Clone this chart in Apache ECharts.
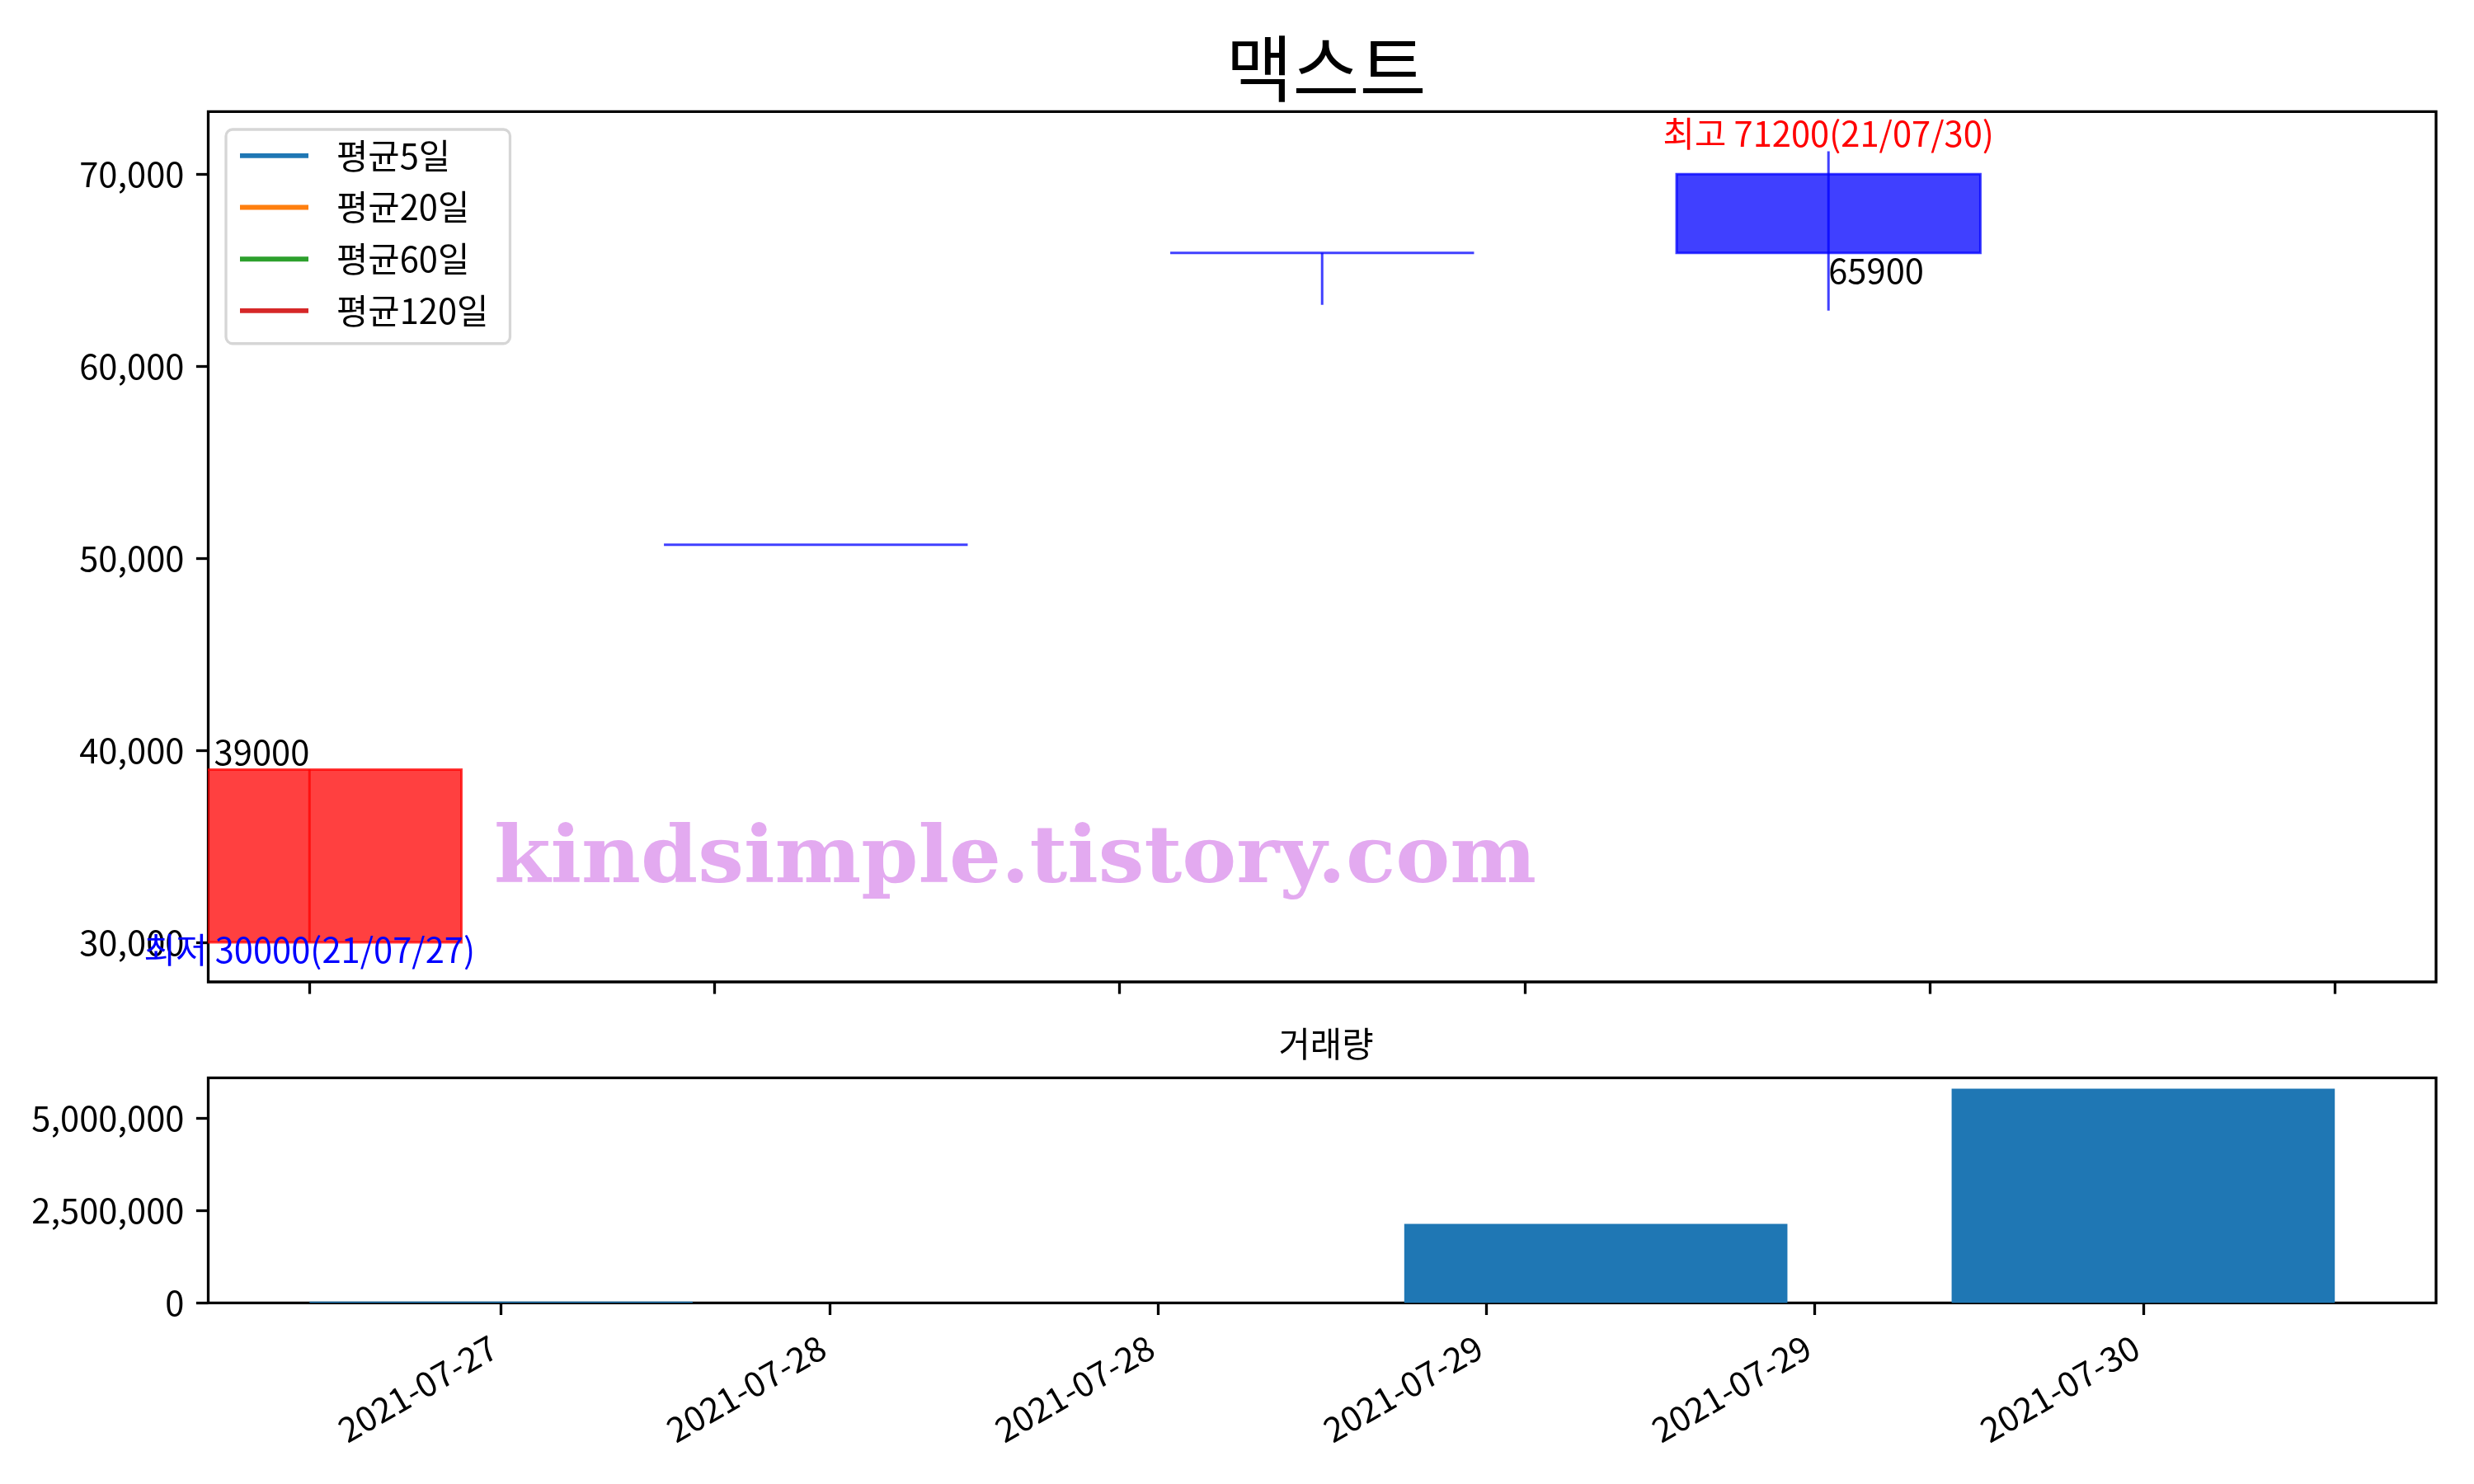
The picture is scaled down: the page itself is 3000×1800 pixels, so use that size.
<!DOCTYPE html>
<html><head><meta charset="utf-8">
<script src="https://cdn.jsdelivr.net/npm/echarts@6/dist/echarts.min.js"></script>
<style>html,body{margin:0;padding:0;background:#fff}#c{width:3000px;height:1800px}</style>
</head><body><div id="c"></div>
<script>
// ---- data ----
const dates = ['2021-07-27', '2021-07-28', '2021-07-29', '2021-07-30'];
const openPrices  = [30000, 50700, 65900, 70000];
const closePrices = [39000, 50700, 65900, 65900];
const lowPrices   = [30000, 50700, 63200, 62900];
const highPrices  = [39000, 50700, 65900, 71200];
const volumes     = [35000, 5000, 2135000, 5790000];
const maNames     = ['평균5일', '평균20일', '평균60일', '평균120일'];
const priceTicks  = [30000, 40000, 50000, 60000, 70000];
const volumeTicks = [0, 2500000, 5000000];
const priceTickPos = [27, 27.8, 28.6, 29.4, 30.2, 31.0];
const volTickPos   = [27, 27.6, 28.2, 28.8, 29.4, 30.0];
const volTickLabels = ['2021-07-27', '2021-07-28', '2021-07-28', '2021-07-29', '2021-07-29', '2021-07-30'];
const closeLabelIdx = [0, 3];

// ---- styles ----
const FONT = "'Noto Sans CJK KR', 'Noto Sans', sans-serif";
const FS = 41.7;
const maColors = ['#1f77b4', '#ff7f0e', '#2ca02c', '#d62728'];
const UP = 'rgba(255,0,0,0.75)';
const DOWN = 'rgba(0,0,255,0.75)';
const BODY_W = 0.6, VOL_W = 0.7;
const LABEL_SHIFT = -0.013; // small leftward nudge of rotated date labels (in days)

const dayOf = d => parseInt(d.slice(8), 10);
const xs = dates.map(dayOf);
const shortDate = d => d.slice(2).replace(/-/g, '/');

const candleData = xs.map((x, i) => [x, openPrices[i], closePrices[i], lowPrices[i], highPrices[i]]);
const volData = xs.map((x, i) => [x, volumes[i]]);

let hiIdx = 0, loIdx = 0;
highPrices.forEach((v, i) => { if (v > highPrices[hiIdx]) hiIdx = i; });
lowPrices.forEach((v, i) => { if (v < lowPrices[loIdx]) loIdx = i; });

const annots = [
  { x: xs[hiIdx], y: highPrices[hiIdx], text: '최고 ' + highPrices[hiIdx] + '(' + shortDate(dates[hiIdx]) + ')', color: '#ff0000', align: 'center', va: 'bottom', dy: 0 },
  { x: xs[loIdx], y: lowPrices[loIdx], text: '최저 ' + lowPrices[loIdx] + '(' + shortDate(dates[loIdx]) + ')', color: '#0000ff', align: 'center', va: 'top', dy: -12 }
];
closeLabelIdx.forEach(i => {
  const up = closePrices[i] > openPrices[i];
  annots.push({ x: xs[i], y: closePrices[i], text: String(closePrices[i]), color: '#000', align: up ? 'right' : 'left', va: up ? 'bottom' : 'top', dy: 0 });
});

const fmt = v => Math.round(v).toLocaleString('en-US');
const volLabelPos = volTickPos.map(p => p + LABEL_SHIFT);

const axisCommon = {
  axisLine: { show: false },
  splitLine: { show: false },
  axisTick: { show: true, length: 14.6, inside: false, lineStyle: { color: '#000', width: 3.3 } },
  axisLabel: { color: '#000', fontFamily: FONT, fontSize: FS, margin: 29 }
};

const chart = echarts.init(document.getElementById('c'), null, { renderer: 'canvas' });
chart.setOption({
  backgroundColor: '#ffffff',
  animation: false,
  title: [
    { text: '맥스트', left: 1603, top: 34, textAlign: 'center',
      textStyle: { fontSize: 88, fontWeight: 'normal', fontFamily: FONT, color: '#000' } },
    { text: '거래량', left: 1603, top: 1240, textAlign: 'center',
      textStyle: { fontSize: FS, fontWeight: 'normal', fontFamily: FONT, color: '#000' } }
  ],
  legend: {
    show: true, orient: 'vertical', left: 274, top: 157,
    data: maNames,
    itemWidth: 83, itemHeight: 42, itemGap: 21,
    padding: [11, 26, 19, 17],
    backgroundColor: 'rgba(255,255,255,0.8)',
    borderColor: '#d6d6d6', borderWidth: 3.3, borderRadius: 8,
    textStyle: { fontFamily: FONT, fontSize: FS, color: '#000', padding: [0, 0, 0, 29] },
    icon: 'path://M0,0 L14,0 L14,1 L0,1 Z',
    selectedMode: false
  },
  grid: [
    { left: 252.5, right: 46, top: 135.4, height: 1055.6, show: true, borderColor: '#000', borderWidth: 3.3, backgroundColor: 'transparent', outerBoundsMode: 'none' },
    { left: 252.5, right: 46, top: 1307.4, height: 273, show: true, borderColor: '#000', borderWidth: 3.3, backgroundColor: 'transparent', outerBoundsMode: 'none' }
  ],
  xAxis: [
    Object.assign({}, axisCommon, {
      type: 'value', gridIndex: 0, min: 26.8, max: 31.2,
      axisTick: Object.assign({}, axisCommon.axisTick, { customValues: priceTickPos }),
      axisLabel: { show: false, customValues: priceTickPos }
    }),
    Object.assign({}, axisCommon, {
      type: 'value', gridIndex: 1, min: 26.465, max: 30.535,
      axisTick: Object.assign({}, axisCommon.axisTick, { customValues: volTickPos }),
      axisLabel: Object.assign({}, axisCommon.axisLabel, {
        customValues: volLabelPos, rotate: 30, margin: 50,
        formatter: v => {
          let k = 0;
          volLabelPos.forEach((p, i) => { if (Math.abs(p - v) < Math.abs(volLabelPos[k] - v)) k = i; });
          return volTickLabels[k];
        }
      })
    })
  ],
  yAxis: [
    Object.assign({}, axisCommon, {
      type: 'value', gridIndex: 0, min: 27940, max: 73260,
      axisTick: Object.assign({}, axisCommon.axisTick, { customValues: priceTicks }),
      axisLabel: Object.assign({}, axisCommon.axisLabel, { customValues: priceTicks, formatter: fmt })
    }),
    Object.assign({}, axisCommon, {
      type: 'value', gridIndex: 1, min: 0, max: 6079500,
      axisTick: Object.assign({}, axisCommon.axisTick, { customValues: volumeTicks }),
      axisLabel: Object.assign({}, axisCommon.axisLabel, { customValues: volumeTicks, formatter: fmt })
    })
  ],
  graphic: [
    { type: 'text', x: 1231, y: 1045, z: 100, scaleX: 1.031, scaleY: 1,
      style: { text: 'kindsimple.tistory.com', font: 'bold 96px "DejaVu Serif"', fill: 'rgb(227,170,240)', align: 'center', verticalAlign: 'middle' } }
  ],
  series: [
    ...maNames.map((n, i) => ({
      name: n, type: 'line', xAxisIndex: 0, yAxisIndex: 0, data: [], symbol: 'none',
      itemStyle: { color: maColors[i] }, lineStyle: { color: maColors[i], width: 4 }
    })),
    {
      type: 'custom', name: 'candles', xAxisIndex: 0, yAxisIndex: 0, clip: true,
      data: candleData, encode: { x: 0, y: [1, 2, 3, 4] },
      renderItem: (params, api) => {
        const x = api.value(0), o = api.value(1), c = api.value(2), l = api.value(3), h = api.value(4);
        const col = c > o ? UP : DOWN;
        const p1 = api.coord([x - BODY_W / 2, Math.max(o, c)]);
        const p2 = api.coord([x + BODY_W / 2, Math.min(o, c)]);
        const ph = api.coord([x, h]), pl = api.coord([x, l]);
        return { type: 'group', children: [
          { type: 'rect', shape: { x: p1[0], y: p1[1], width: p2[0] - p1[0], height: p2[1] - p1[1] }, style: { fill: col, stroke: col, lineWidth: 3 } },
          { type: 'line', shape: { x1: ph[0], y1: ph[1], x2: pl[0], y2: pl[1] }, style: { stroke: col, lineWidth: 3 } }
        ] };
      }
    },
    {
      type: 'custom', name: 'annotations', xAxisIndex: 0, yAxisIndex: 0, clip: false, z: 10,
      data: annots.map(a => [a.x, a.y]),
      renderItem: (params, api) => {
        const a = annots[params.dataIndex];
        const p = api.coord([a.x, a.y]);
        return { type: 'text', x: p[0], y: p[1] + a.dy, style: { text: a.text, fill: a.color, font: FS + 'px ' + FONT, align: a.align, verticalAlign: a.va } };
      }
    },
    {
      type: 'custom', name: 'volume', xAxisIndex: 1, yAxisIndex: 1, clip: true,
      data: volData, encode: { x: 0, y: 1 },
      renderItem: (params, api) => {
        const x = api.value(0), v = api.value(1);
        const p1 = api.coord([x - VOL_W / 2, v]);
        const p2 = api.coord([x + VOL_W / 2, 0]);
        return { type: 'rect', shape: { x: p1[0], y: p1[1], width: p2[0] - p1[0], height: p2[1] - p1[1] }, style: { fill: '#1f77b4' } };
      }
    }
  ]
});
</script>
</body></html>
